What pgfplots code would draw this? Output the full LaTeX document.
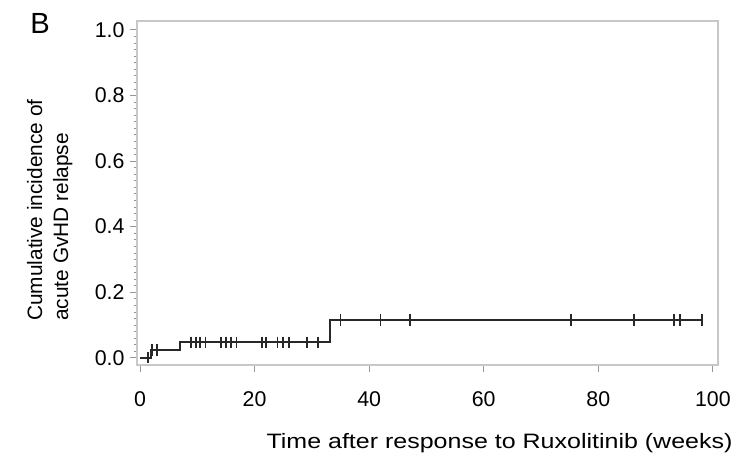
\documentclass[border=0pt]{standalone}
\usepackage{fontspec}
\setmainfont{Liberation Sans}
\newfontfamily\widefont[FakeStretch=1.2]{Liberation Sans}
\usepackage{pgfplots}
\pgfplotsset{compat=1.18}
\definecolor{framegray}{RGB}{200,200,200}
\definecolor{tickgray}{RGB}{150,150,150}
\definecolor{curve}{RGB}{40,40,40}
\begin{document}
\begin{tikzpicture}
\begin{axis}[
  scale only axis,
  width=348.6pt, height=206.4pt,
  xmin=-0.52, xmax=100.9,
  ymin=-0.022, ymax=1.027,
  axis line style={framegray, line width=0.8pt},
  xtick={0,20,...,100},
  ytick={0,0.2,...,1.0},
  minor y tick num=9,
  tick align=outside,
  xtick pos=bottom, ytick pos=left,
  major tick length=4pt, minor tick length=2pt,
  tick style={tickgray, line width=0.5pt},
  minor tick style={tickgray, line width=0.4pt},
  /pgf/number format/assume math mode=true,
  /pgf/number format/.cd, fixed, fixed zerofill, precision=1, /pgfplots/.cd,
  xticklabel={\pgfmathprintnumber[fixed,precision=0]{\tick}},
  ticklabel style={font=\fontsize{12.8}{15}\selectfont},
  xticklabel style={anchor=base, yshift=-21pt},
  yticklabel style={anchor=east},
  xlabel={Time after response to Ruxolitinib (weeks)},
  xlabel style={font=\widefont\fontsize{12.5}{15}\selectfont, anchor=base,
    at={(axis description cs:0.624,0)}, yshift=-50.4pt, inner sep=0pt},
  ylabel={Cumulative incidence of\\acute GvHD relapse},
  ylabel style={font=\fontsize{12.5}{15.6}\selectfont, align=left, rotate=0,
    anchor=north west, at={(axis description cs:-0.19,0.128)}, inner sep=0pt},
  clip=false,
]
\addplot[const plot, curve, line width=1.1pt] coordinates {
  (0,0) (1.87,0.0238) (7.0,0.0476) (33.1,0.1153) (98.1,0.1153)
};
\addplot[only marks, mark=|, mark size=3.4pt, curve, mark options={line width=1.1pt}] coordinates {
  (1.45,0)
  (2.16,0.0238) (2.92,0.0238)
  (8.87,0.0476) (9.74,0.0476) (10.55,0.0476) (11.43,0.0476)
  (14.17,0.0476) (15.04,0.0476) (15.92,0.0476) (16.85,0.0476)
  (21.3,0.0476) (22.0,0.0476)
  (24.0,0.0476) (24.9,0.0476) (26.0,0.0476)
  (29.1,0.0476) (31.1,0.0476)
  (35.0,0.1153) (42.0,0.1153) (47.1,0.1153)
  (75.2,0.1153) (86.2,0.1153) (93.2,0.1153) (94.2,0.1153) (98.1,0.1153)
};
\node[anchor=base west, inner sep=0pt, font=\fontsize{17.5}{20}\selectfont]
  at (axis description cs:-0.184,0.965) {B};
\end{axis}
\pgfresetboundingbox
\path (current axis.south west) +(-82.2pt,-53.4pt) rectangle +(363pt,219pt);
\end{tikzpicture}
\end{document}
